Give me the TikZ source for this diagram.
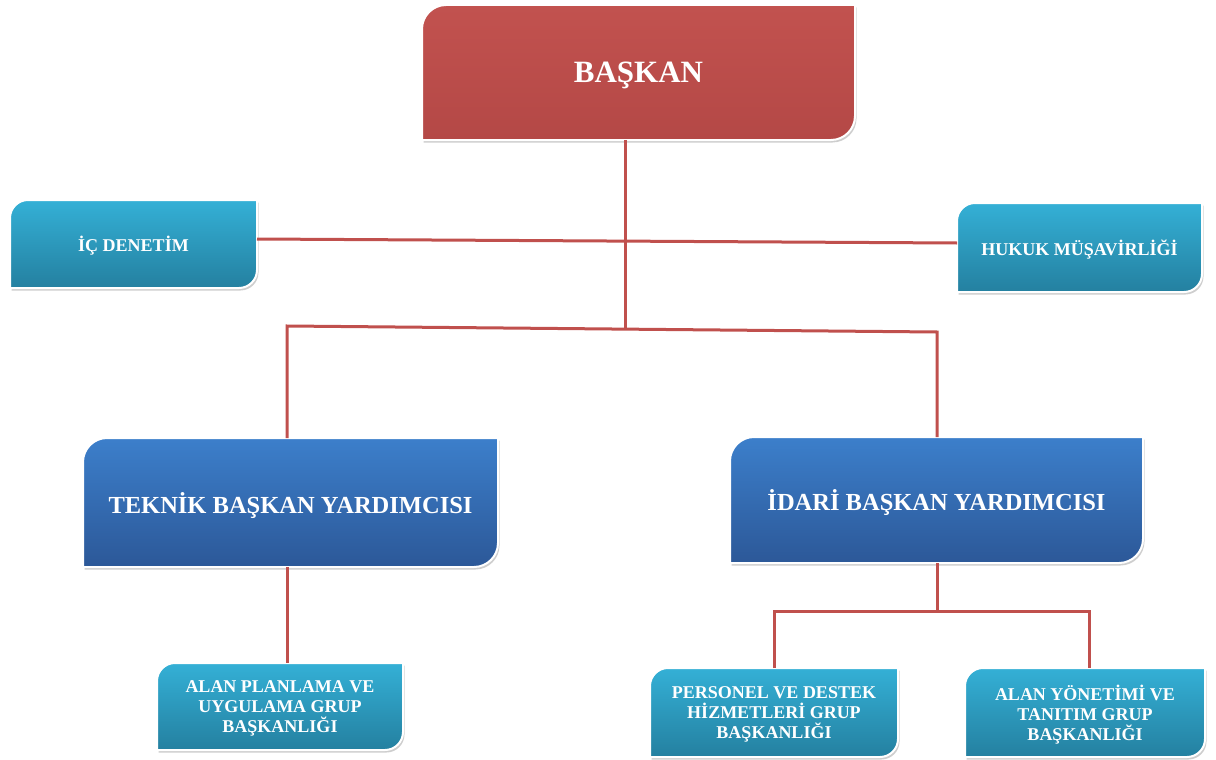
\documentclass[tikz,border=0pt]{standalone}
\usepackage{fontspec}
\setmainfont{Liberation Serif}
\usetikzlibrary{shadows,calc}
\definecolor{linered}{RGB}{192,80,77}
\definecolor{redtop}{RGB}{194,82,79}
\definecolor{redbot}{RGB}{180,72,70}
\definecolor{tealtop}{RGB}{52,176,214}
\definecolor{tealbot}{RGB}{36,128,160}
\definecolor{bluetop}{RGB}{60,127,203}
\definecolor{bluebot}{RGB}{44,88,152}
% #1 name, #2 x1, #3 y1, #4 x2, #5 y2, #6 radius, #7 fill style, #8 label style, #9 text
\newcommand\orgbox[9]{%
  \path[#7] (#2,#5) -- (#2,#3+#6) .. controls (#2,#3+0.45*#6) and (#2+0.45*#6,#3) .. (#2+#6,#3) -- (#4,#3)
    -- (#4,#5-#6) .. controls (#4,#5-0.45*#6) and (#4-0.45*#6,#5) .. (#4-#6,#5) -- cycle;
  \node[#8, minimum width=#4-#2, minimum height=#5-#3] (#1) at ({(#2+#4)/2},{(#3+#5)/2}) {#9};
}
\begin{document}
\begin{tikzpicture}[x=1pt,y=-1pt,
  boxbase/.style={draw=white, line width=2pt,
    drop shadow={shadow xshift=1.5pt, shadow yshift=-2.5pt, opacity=0.35, fill=black!55}},
  redbox/.style={boxbase, top color=redtop, bottom color=redbot},
  tealbox/.style={boxbase, top color=tealtop, bottom color=tealbot},
  bluebox/.style={boxbase, top color=bluetop, bottom color=bluebot},
  lbl/.style={text=white, align=center, inner sep=0pt, outer sep=0pt, text depth=0pt},
  biglbl/.style={lbl, font=\fontsize{31}{34}\selectfont\bfseries},
  midlbl/.style={lbl, font=\fontsize{24.5}{28}\selectfont\bfseries},
  smalllbl/.style={lbl, font=\fontsize{18}{20}\selectfont\bfseries},
  conn/.style={draw=linered, line width=3pt}
]
\useasboundingbox (0,0) rectangle (1216,760);

\orgbox{bas}{422}{5}{855}{140}{24}{redbox}{biglbl}{BAŞKAN}
\orgbox{icd}{10}{200}{257}{288}{18}{tealbox}{smalllbl}{İÇ DENETİM}
\orgbox{huk}{957}{203}{1202}{292}{18}{tealbox}{smalllbl}{HUKUK MÜŞAVİRLİĞİ}
\orgbox{tek}{83}{438}{498}{567}{24}{bluebox}{midlbl}{TEKNİK BAŞKAN YARDIMCISI}
\orgbox{ida}{730}{437}{1143}{563}{24}{bluebox}{midlbl}{İDARİ BAŞKAN YARDIMCISI}
\orgbox{alp}{157}{663}{403}{750}{18}{tealbox}{smalllbl}{ALAN PLANLAMA VE\\UYGULAMA GRUP\\BAŞKANLIĞI}
\orgbox{per}{650}{668}{898}{757}{18}{tealbox}{smalllbl}{PERSONEL VE DESTEK\\HİZMETLERİ GRUP\\BAŞKANLIĞI}
\orgbox{aly}{965}{668}{1205}{757}{18}{tealbox}{smalllbl}{ALAN YÖNETİMİ VE\\TANITIM GRUP\\BAŞKANLIĞI}

\coordinate (j1) at (625,328);
\coordinate (j2l) at (287,326);
\coordinate (j2r) at (937,332);
\coordinate (j3) at (937,611);
\coordinate (j3l) at (774,611);
\coordinate (j3r) at (1089,611);

\draw[conn] ([yshift=5pt]icd.east) -- ([yshift=4.5pt]huk.west);
\draw[conn] (bas.south -| j1) -- (j1);
\draw[conn] (tek.north -| j2l) -- (j2l) -- (j2r) -- (ida.north -| j2r);
\draw[conn] (tek.south -| j2l) -- (alp.north -| j2l);
\draw[conn] (ida.south -| j3) -- (j3);
\draw[conn] (per.north -| j3l) -- (j3l) -- (j3r) -- (aly.north -| j3r);
\end{tikzpicture}
\end{document}
